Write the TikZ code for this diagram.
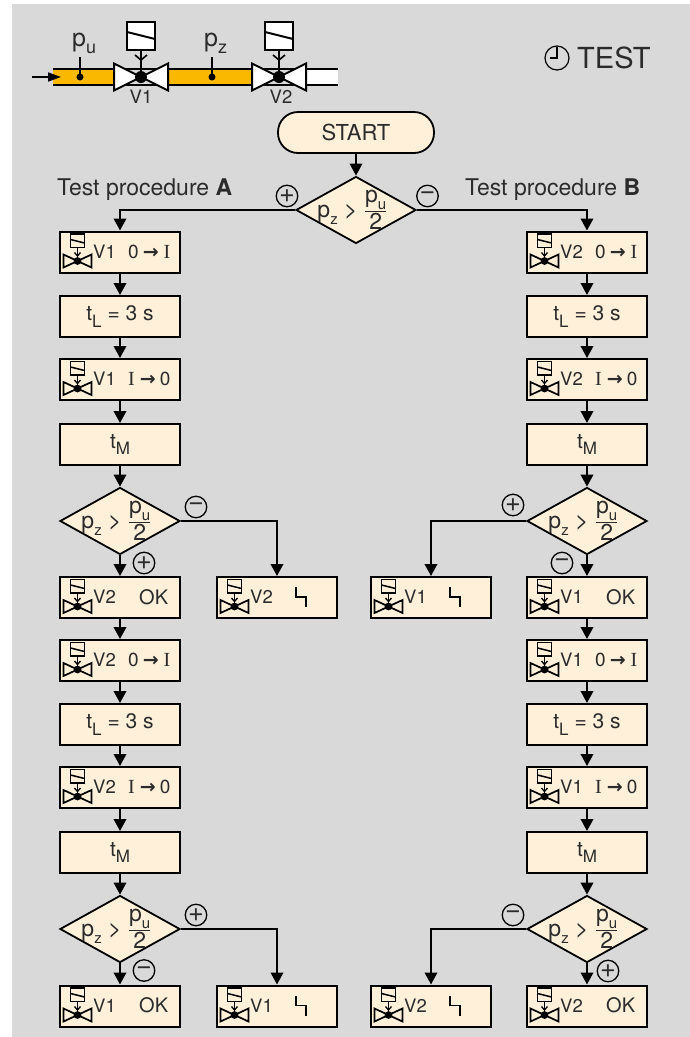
\documentclass[tikz,border=0pt]{standalone}
\usepackage{fontspec}
\setmainfont{TeX Gyre Heros}
\newfontfamily\arrowf{DejaVu Sans}
\newfontfamily\serifI{Liberation Serif}
\usetikzlibrary{arrows.meta,shapes.geometric,shapes.misc,calc}
\definecolor{bg}{HTML}{D9D9D9}
\definecolor{cream}{HTML}{FFF0DA}
\definecolor{pipe}{HTML}{FBB800}
\definecolor{ink}{HTML}{2B2B2B}
\newcommand{\fsz}[1]{\fontsize{#1}{#1}\selectfont}
\newcommand{\sbs}[2][15]{\raisebox{-0.3em}{\fsz{#1}#2}}
\newcommand{\dtext}{\fsz{23}p\sbs{z} > $\textstyle{\mbox{p\sbs{u}}\above 1.2pt\mbox{2}}$}
\newcommand{\onoff}{{\fsz{19}0\hspace{4pt}{\arrowf\bfseries\fsz{19}→}\hspace{5pt}{\serifI\fsz{20}I}}}
\newcommand{\offon}{{\fsz{19}{\serifI\fsz{20}I}\hspace{5pt}{\arrowf\bfseries\fsz{19}→}\hspace{4pt}0}}
\tikzset{
  x=1pt,y=-1pt,
  every node/.style={text=ink},
  fbox/.style={draw=black,fill=cream,line width=2pt,rectangle,minimum width=120pt,minimum height=41pt,inner sep=0pt,font=\fsz{21}},
  dia/.style={draw=black,fill=cream,line width=1.8pt,diamond,minimum width=120pt,minimum height=67pt,inner sep=0pt,aspect=1.8},
  dlabel/.style={inner sep=0pt,xshift=-3.5pt},
  startbox/.style={draw=black,fill=cream,line width=1.8pt,rectangle,rounded corners=20pt,minimum width=156pt,minimum height=41pt,inner sep=0pt,font=\fsz{22}},
  conn/.style={draw=black,line width=2pt,-{Triangle[width=12.5pt,length=12pt]}},
  sign/.style={draw=black,circle,line width=1.3pt,minimum size=21.5pt,inner sep=0pt,font=\fsz{27}},
  vtxt/.style={anchor=west,inner sep=0pt,font=\fsz{18.5}},
  rtxt/.style={anchor=west,inner sep=0pt},
  oktxt/.style={anchor=west,inner sep=0pt,font=\fsz{20}},
  ptxt/.style={anchor=base west,inner sep=0pt,font=\fsz{25}},
  valveicon/.pic={
    \draw[line width=1.7pt,fill=cream] (11.5,3.5) rectangle (25.5,17);
    \draw[line width=1.5pt] (11.5,9) -- (25.5,12.5);
    \draw[line width=1.5pt] (18.5,17) -- (18.5,30);
    \draw[line width=1.3pt] (15.5,22) -- (18.5,25.5) -- (21.5,22);
    \draw[line width=1.7pt] (18.5,30.5) -- (4.5,24) -- (4.5,37) -- cycle;
    \draw[line width=1.7pt] (18.5,30.5) -- (32.5,24) -- (32.5,37) -- cycle;
    \fill[black] (18.5,30.5) circle (3.9);
  },
  flashicon/.pic={
    \draw[line width=1.8pt,black] (80,11) -- (80,21) -- (90,21) -- (90,31);
  },
  bigvalve/.pic={
    \draw[line width=2pt,fill=white] (0,0) -- (-27,-13.5) -- (-27,13.5) -- cycle;
    \draw[line width=2pt,fill=white] (0,0) -- (27,-13.5) -- (27,13.5) -- cycle;
    \draw[line width=2pt,fill=white] (-14,-55) rectangle (14,-27);
    \draw[line width=2pt] (-14,-45) -- (14,-38);
    \draw[line width=1.7pt] (0,-27) -- (0,0);
    \draw[line width=1.6pt] (-6,-22) -- (0,-17) -- (6,-22);
    \fill[black] (0,0) circle (6);
  },
}
\newcommand{\actbox}[5]{%
  \node[fbox] (#1) at (#2,#3) {};
  \pic at (#1.north west) {valveicon};
  \node[vtxt] (#1v) at ([xshift=34pt,yshift=-21pt]#1.north west) {#4};
  \node[rtxt] (#1r) at ([xshift=69pt,yshift=-21pt]#1.north west) {#5};
}
\newcommand{\okbox}[4]{%
  \node[fbox] (#1) at (#2,#3) {};
  \pic at (#1.north west) {valveicon};
  \node[vtxt] (#1v) at ([xshift=34pt,yshift=-21pt]#1.north west) {#4};
  \node[oktxt] (#1r) at ([xshift=80pt,yshift=-21pt]#1.north west) {OK};
}
\newcommand{\faultbox}[4]{%
  \node[fbox] (#1) at (#2,#3) {};
  \pic at (#1.north west) {valveicon};
  \pic at (#1.north west) {flashicon};
  \node[vtxt] (#1v) at ([xshift=34pt,yshift=-21pt]#1.north west) {#4};
}
\begin{document}
\begin{tikzpicture}
\useasboundingbox (0,0) rectangle (690,1037);
\fill[white] (0,0) rectangle (690,1037);
\fill[bg] (12,4) rectangle (690,1037);

% pipe scheme
\fill[pipe] (53,69) rectangle (114,85);
\fill[pipe] (168,69) rectangle (252,85);
\fill[white] (306,69) rectangle (338,85);
\draw[line width=2pt] (53,68.5) -- (338,68.5) (53,85) -- (338,85);
\pic at (141,77) {bigvalve};
\pic at (279,77) {bigvalve};
\coordinate (inA) at (32,77);
\coordinate (inB) at (61,77);
\draw[line width=1.5pt,-{Triangle[width=9pt,length=13pt]}] (inA) -- (inB);
\draw[line width=1.5pt] (80,57) -- (80,77) (212,57) -- (212,77);
\fill[black] (80,77) circle (3.5) (212,77) circle (3.5);
\node[ptxt] (pu) at (72,46) {p\sbs[18]{u}};
\node[ptxt] (pz) at (204,46) {p\sbs[18]{z}};
\node[inner sep=0pt,font=\fsz{18.5}] (vl1) at (141,96.5) {V1};
\node[inner sep=0pt,font=\fsz{18.5}] (vl2) at (281,96.5) {V2};

% clock and TEST
\draw[line width=1.2pt,black] (557,58) circle (12);
\draw[line width=1.2pt,black] (557,47) -- (557,58) -- (550,58);
\node[anchor=west,inner sep=0pt,font=\fsz{29}] (test) at (577,58) {TEST};

% headings
\node[anchor=base west,inner sep=0pt,font=\fsz{23}] (hA) at (57,195) {Test procedure \textbf{A}};
\node[anchor=base west,inner sep=0pt,font=\fsz{23}] (hB) at (465,195) {Test procedure \textbf{B}};

% start + first decision
\node[startbox] (start) at (356,132.5) {START};
\node[dia,label={[dlabel]center:\dtext}] (d0) at (356,210) {};

% left column
\actbox{a1}{120}{252}{V1}{\onoff}
\node[fbox] (a2) at (120,316.5) {t\sbs[17]{L} = 3 s};
\actbox{a3}{120}{379.5}{V1}{\offon}
\node[fbox] (a4) at (120,444.5) {t\sbs[17]{M}};
\node[dia,label={[dlabel]center:\dtext}] (a5) at (120,521) {};
\okbox{a6}{120}{597.5}{V2}
\faultbox{af1}{277}{597.5}{V2}
\actbox{a7}{120}{660.5}{V2}{\onoff}
\node[fbox] (a8) at (120,724.5) {t\sbs[17]{L} = 3 s};
\actbox{a9}{120}{787.5}{V2}{\offon}
\node[fbox] (a10) at (120,852.5) {t\sbs[17]{M}};
\node[dia,label={[dlabel]center:\dtext}] (a11) at (120,929) {};
\okbox{a12}{120}{1006}{V1}
\faultbox{af2}{277}{1006}{V1}

% right column
\actbox{b1}{587}{252}{V2}{\onoff}
\node[fbox] (b2) at (587,316.5) {t\sbs[17]{L} = 3 s};
\actbox{b3}{587}{379.5}{V2}{\offon}
\node[fbox] (b4) at (587,444.5) {t\sbs[17]{M}};
\node[dia,label={[dlabel]center:\dtext}] (b5) at (587,521) {};
\okbox{b6}{587}{597.5}{V1}
\faultbox{bf1}{431}{597.5}{V1}
\actbox{b7}{587}{660.5}{V1}{\onoff}
\node[fbox] (b8) at (587,724.5) {t\sbs[17]{L} = 3 s};
\actbox{b9}{587}{787.5}{V1}{\offon}
\node[fbox] (b10) at (587,852.5) {t\sbs[17]{M}};
\node[dia,label={[dlabel]center:\dtext}] (b11) at (587,929) {};
\okbox{b12}{587}{1006}{V2}
\faultbox{bf2}{431}{1006}{V2}

% connectors
\draw[conn] (start.south) -- (d0.north);
\draw[conn] (d0.west) -| (a1.north);
\draw[conn] (d0.east) -| (b1.north);
\foreach \p/\q in {a1/a2,a2/a3,a3/a4,a4/a5,a5/a6,a6/a7,a7/a8,a8/a9,a9/a10,a10/a11,a11/a12,
                   b1/b2,b2/b3,b3/b4,b4/b5,b5/b6,b6/b7,b7/b8,b8/b9,b9/b10,b10/b11,b11/b12}
  \draw[conn] (\p.south) -- (\q.north);
\draw[conn] (a5.east) -| (af1.north);
\draw[conn] (a11.east) -| (af2.north);
\draw[conn] (b5.west) -| (bf1.north);
\draw[conn] (b11.west) -| (bf2.north);

% signs
\node[sign] (s1) at (287,196) {+};
\node[sign] (s2) at (427.5,196) {−};
\node[sign] (s3) at (196,507) {−};
\node[sign] (s4) at (144,563) {+};
\node[sign] (s5) at (196,915) {+};
\node[sign] (s6) at (144,970.5) {−};
\node[sign] (s7) at (513,505) {+};
\node[sign] (s8) at (562,563) {−};
\node[sign] (s9) at (513,915) {−};
\node[sign] (s10) at (608,971) {+};
\end{tikzpicture}
\end{document}
